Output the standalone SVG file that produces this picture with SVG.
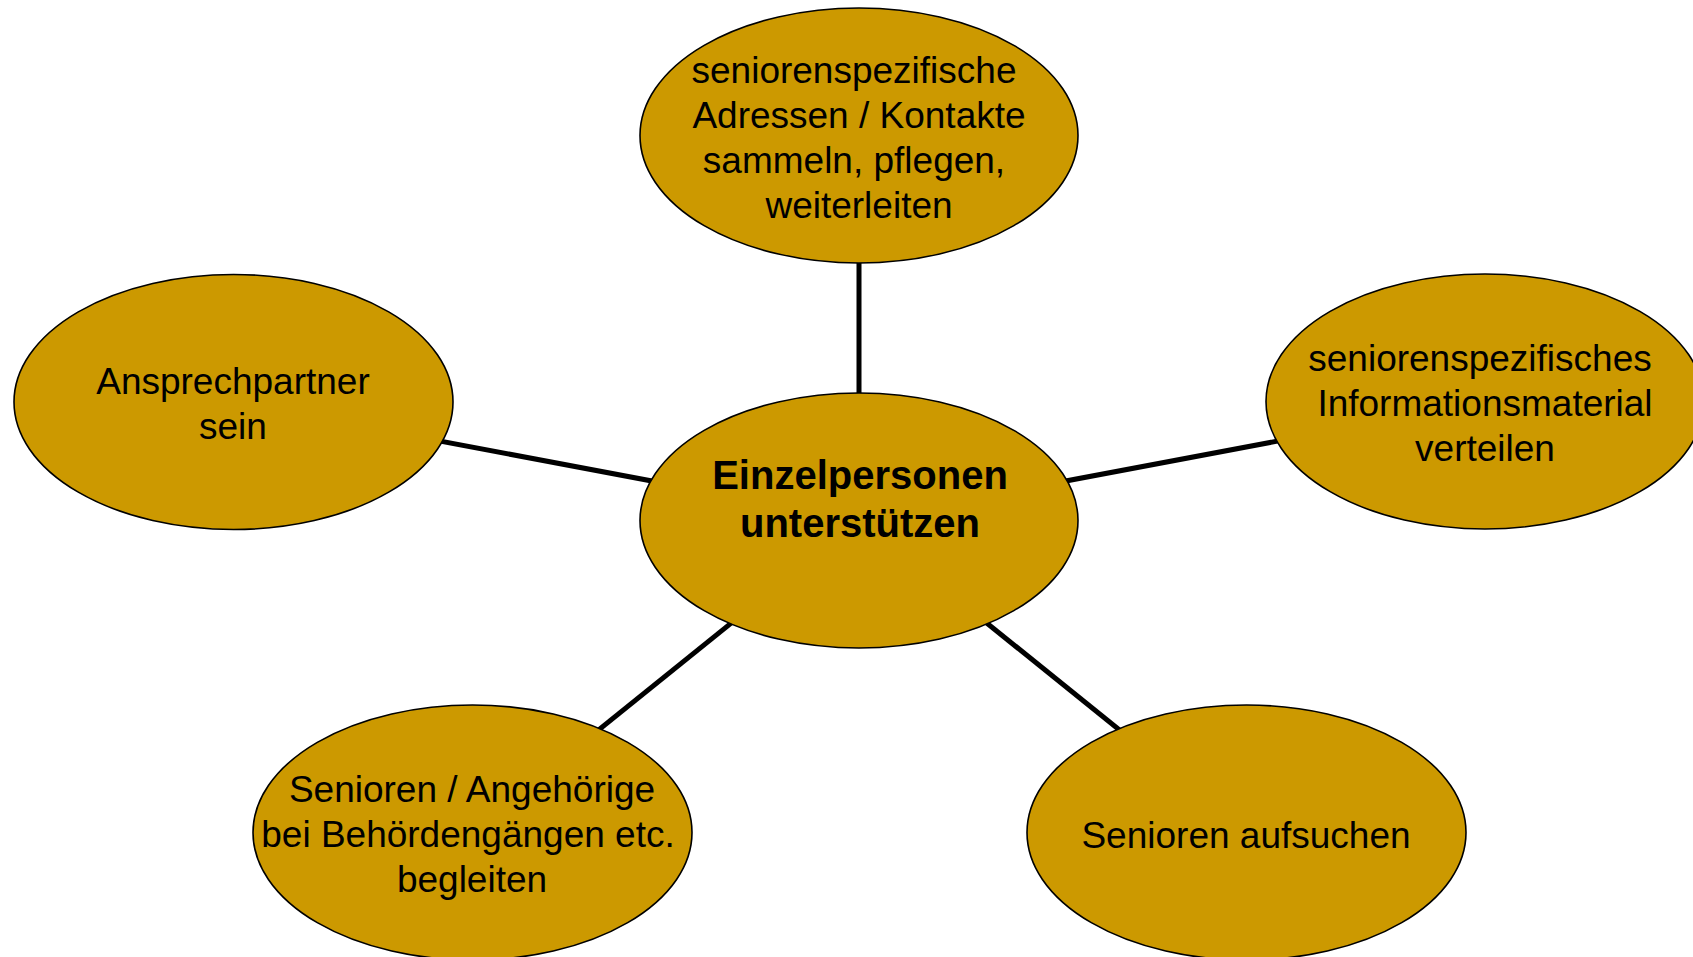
<svg xmlns="http://www.w3.org/2000/svg" width="1693" height="957" viewBox="0 0 1693 957">
<style>
.n{fill:#CC9900;stroke:#000;stroke-width:1.6}
.t{font-family:"Liberation Sans",Arial,sans-serif;font-size:37px;fill:#000;text-anchor:middle}
.b{font-family:"Liberation Sans",Arial,sans-serif;font-size:40px;font-weight:bold;fill:#000;text-anchor:middle}
.c line{stroke:#000;stroke-width:5}
</style>
<rect width="1693" height="957" fill="#fff"/>
<g id="connectors" class="c">
<line x1="859" y1="520" x2="859" y2="136"/>
<line x1="859" y1="520" x2="233" y2="402"/>
<line x1="859" y1="520" x2="1485" y2="402"/>
<line x1="859" y1="520" x2="472" y2="832"/>
<line x1="859" y1="520" x2="1246" y2="832"/>
</g>
<g id="top">
<ellipse class="n" cx="859" cy="135.5" rx="219" ry="127.5"/>
<text class="t" x="854" y="83">seniorenspezifische</text>
<text class="t" x="859" y="128">Adressen / Kontakte</text>
<text class="t" x="854" y="173">sammeln, pflegen,</text>
<text class="t" x="859" y="218">weiterleiten</text>
</g>
<g id="center">
<ellipse class="n" cx="859" cy="520.5" rx="219" ry="127.5"/>
<text class="b" x="860" y="489">Einzelpersonen</text>
<text class="b" x="860" y="537">unterstützen</text>
</g>
<g id="left">
<ellipse class="n" cx="233.5" cy="402" rx="219.5" ry="127.5"/>
<text class="t" x="233" y="394">Ansprechpartner</text>
<text class="t" x="233" y="439">sein</text>
</g>
<g id="right">
<ellipse class="n" cx="1485" cy="401.5" rx="219" ry="127.5"/>
<text class="t" x="1480" y="371">seniorenspezifisches</text>
<text class="t" x="1485" y="416">Informationsmaterial</text>
<text class="t" x="1485" y="461">verteilen</text>
</g>
<g id="bottomleft">
<ellipse class="n" cx="472.5" cy="832.5" rx="219.5" ry="127.5"/>
<text class="t" x="472" y="802">Senioren / Angehörige</text>
<text class="t" x="468" y="847">bei Behördengängen etc.</text>
<text class="t" x="472" y="892">begleiten</text>
</g>
<g id="bottomright">
<ellipse class="n" cx="1246.5" cy="832.5" rx="219.5" ry="127.5"/>
<text class="t" x="1246" y="848">Senioren aufsuchen</text>
</g>
</svg>
